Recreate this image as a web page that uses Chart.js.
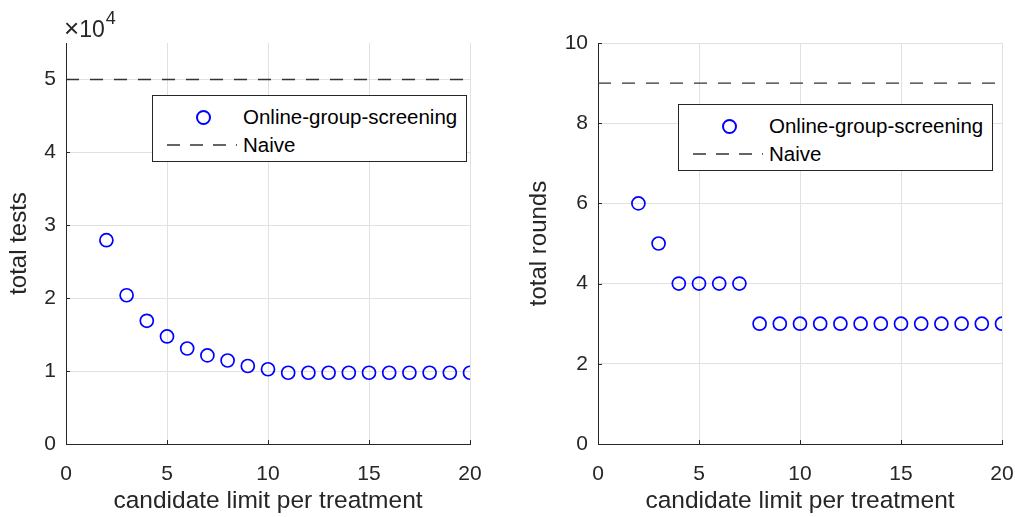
<!DOCTYPE html>
<html>
<head>
<meta charset="utf-8">
<script src="https://cdn.jsdelivr.net/npm/chart.js@4"></script>
<style>
  html, body { margin: 0; padding: 0; background: #fff; }
  body { width: 1015px; height: 517px; position: relative; overflow: hidden;
         font-family: "Liberation Sans", Arial, sans-serif; color: #262626; }
  canvas { position: absolute; top: 0; }
  #leftChart { left: 0; }
  #rightChart { left: 507px; }
  .legend { position: absolute; background: #fff; border: 1px solid #262626;
            box-sizing: border-box; width: 315px; height: 67px; font-size: 20.5px; color: #000; }
  .legend .row { position: absolute; left: 0; right: 0; height: 26px; }
  .legend .mark { position: absolute; width: 11px; height: 11px; border: 2px solid #0000ff;
                  border-radius: 50%; box-sizing: content-box; }
  .legend svg { position: absolute; left: 14px; top: 12px; }
  .legend .txt { position: absolute; left: 90px; line-height: 26px; }
  .expo { position: absolute; left: 64px; top: 15px; font-size: 23px; line-height: 26px; color: #262626; white-space: nowrap; }
  .expo .x { font-size: 26px; }
  .expo sup { font-size: 18px; position: relative; top: -10px; vertical-align: top; margin-left: 1px; }
</style>
</head>
<body>
<canvas id="leftChart" width="507" height="517"></canvas>
<canvas id="rightChart" width="508" height="517"></canvas>
<div class="expo"><span class="x">&times;</span>10<sup>4</sup></div>

<div class="legend" style="left:152px;top:95px;">
  <div class="row" style="top:8px"><div class="mark" style="left:43px;top:6px"></div><div class="txt">Online-group-screening</div></div>
  <div class="row" style="top:36px"><svg width="70" height="2"><line x1="0" y1="1" x2="70" y2="1" stroke="#333" stroke-width="1.4" stroke-dasharray="13 10"/></svg><div class="txt">Naive</div></div>
</div>
<div class="legend" style="left:678px;top:104px;">
  <div class="row" style="top:8px"><div class="mark" style="left:43px;top:6px"></div><div class="txt">Online-group-screening</div></div>
  <div class="row" style="top:36px"><svg width="70" height="2"><line x1="0" y1="1" x2="70" y2="1" stroke="#333" stroke-width="1.4" stroke-dasharray="13 10"/></svg><div class="txt">Naive</div></div>
</div>

<script>
// candidate limit per treatment
const limits = [2, 3, 4, 5, 6, 7, 8, 9, 10, 11, 12, 13, 14, 15, 16, 17, 18, 19, 20];
const totalTests = [27950, 20400, 16900, 14750, 13100, 12150, 11450, 10700, 10250,
  9770, 9770, 9770, 9770, 9770, 9770, 9770, 9770, 9770, 9770];
const totalRounds = [6, 5, 4, 4, 4, 4, 3, 3, 3, 3, 3, 3, 3, 3, 3, 3, 3, 3, 3];
const naiveRange = [0, 20];
const naiveTests = 50000;
const naiveRounds = 9;
const xTicks = [0, 5, 10, 15, 20];
const testTicks = [0, 10000, 20000, 30000, 40000, 50000];
const roundTicks = [0, 2, 4, 6, 8, 10];

const TEXT = "#262626";
const GRID = "#e1e1e1";
Chart.defaults.font.family = '"Liberation Sans", Arial, sans-serif';
Chart.defaults.color = TEXT;

// small inward tick marks, matlab style
const innerTicks = {
  id: "innerTicks",
  afterDraw(chart) {
    const ctx = chart.ctx, a = chart.chartArea;
    const xs = chart.scales.x, ys = chart.scales.y;
    ctx.save();
    ctx.strokeStyle = TEXT;
    ctx.lineWidth = 1;
    ctx.beginPath();
    xs.ticks.forEach(t => {
      const px = Math.round(xs.getPixelForValue(t.value)) + 0.5;
      ctx.moveTo(px, a.bottom); ctx.lineTo(px, a.bottom - 4);
    });
    ys.ticks.forEach(t => {
      const py = Math.round(ys.getPixelForValue(t.value)) + 0.5;
      ctx.moveTo(a.left, py); ctx.lineTo(a.left + 4, py);
    });
    ctx.stroke();
    ctx.restore();
  }
};

function makeChart(id, values, naive, yMax, yTicks, yLabel, yTitle, pad, yWidth) {
  const ctx = document.getElementById(id).getContext("2d");
  return new Chart(ctx, {
    type: "scatter",
    data: {
      datasets: [
        {
          label: "Online-group-screening",
          data: limits.map((x, i) => ({ x: x, y: values[i] })),
          pointStyle: "circle",
          pointRadius: 6.5,
          pointBorderWidth: 1.7,
          pointBorderColor: "#0000ff",
          pointBackgroundColor: "rgba(0,0,0,0)",
          showLine: false
        },
        {
          label: "Naive",
          data: naiveRange.map(x => ({ x: x, y: naive })),
          showLine: true,
          pointRadius: 0,
          borderColor: "#333333",
          borderWidth: 1.4,
          borderDash: [13, 11]
        }
      ]
    },
    options: {
      responsive: false,
      animation: false,
      layout: { padding: pad },
      plugins: { legend: { display: false }, tooltip: { enabled: false } },
      scales: {
        x: {
          type: "linear",
          min: 0, max: 20,
          afterBuildTicks: s => { s.ticks = xTicks.map(v => ({ value: v })); },
          afterFit: s => { s.height = 73; s.paddingLeft = 0; s.paddingRight = 0; },
          ticks: { font: { size: 21 }, padding: 18, maxRotation: 0, color: TEXT },
          grid: { color: GRID, drawTicks: false },
          border: { color: TEXT, width: 1 },
          title: { display: true, text: "candidate limit per treatment",
                   font: { size: 24.5 }, color: TEXT, padding: { top: 0, bottom: 1 } }
        },
        y: {
          type: "linear",
          min: 0, max: yMax,
          afterBuildTicks: s => { s.ticks = yTicks.map(v => ({ value: v })); },
          ticks: { font: { size: 21 }, padding: 10, color: TEXT, callback: yLabel },
          afterFit: s => { s.width = yWidth; s.paddingTop = 0; s.paddingBottom = 0; },
          grid: { color: GRID, drawTicks: false },
          border: { color: TEXT, width: 1 },
          title: { display: true, text: yTitle, font: { size: 24 }, color: TEXT,
                   padding: { top: 5, bottom: 0 } }
        }
      }
    },
    plugins: [innerTicks]
  });
}

makeChart("leftChart", totalTests, naiveTests, 55000, testTicks, v => String(v / 10000),
  "total tests", { top: 43, right: 37, left: 0, bottom: 0 }, 66);

makeChart("rightChart", totalRounds, naiveRounds, 10, roundTicks, v => String(v),
  "total rounds", { top: 43, right: 13, left: 13, bottom: 0 }, 78);
</script>
</body>
</html>
